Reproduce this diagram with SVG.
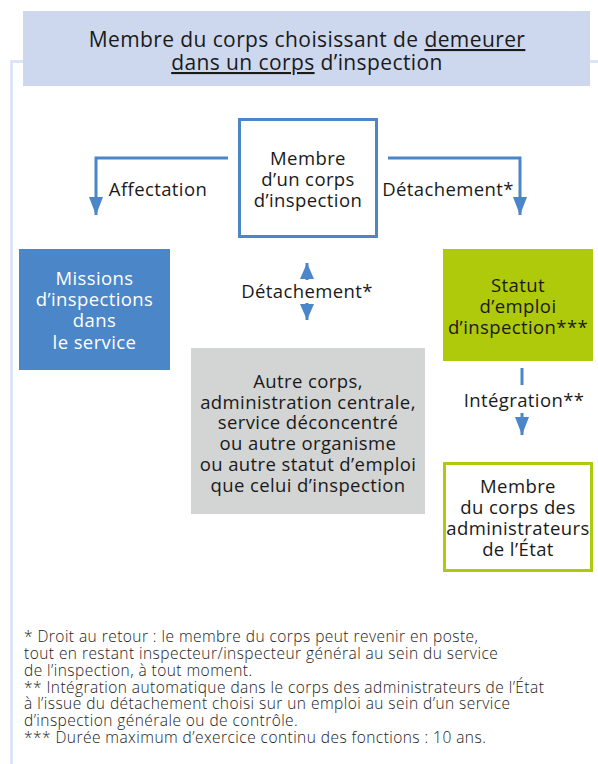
<svg xmlns="http://www.w3.org/2000/svg" width="598" height="764" viewBox="0 0 598 764">
<style>
text{font-family:"Open Sans","Noto Sans","Liberation Sans",sans-serif;fill:#1a1a1a;text-anchor:middle}
.n{font-size:18.5px;letter-spacing:0.4px}
.w{fill:#ffffff}
.h{font-size:21px;letter-spacing:0.4px}
.fn{font-size:15.5px;letter-spacing:0.45px;text-anchor:start;font-weight:300}
.conn{fill:none;stroke:#4a86c8;stroke-width:3}
.u{text-decoration:underline}
</style>
<defs>
<marker id="ah" markerUnits="userSpaceOnUse" markerWidth="18" markerHeight="14" refX="18" refY="7" viewBox="0 0 18 14" orient="auto"><path d="M0,0 L18,7 L0,14 Z" fill="#4a86c8"/></marker>
<marker id="as" markerUnits="userSpaceOnUse" markerWidth="16" markerHeight="14" refX="16" refY="7" viewBox="0 0 16 14" orient="auto"><path d="M0,0 L16,7 L0,14 Z" fill="#4a86c8"/></marker>
</defs>
<g id="frame"><path d="M11.5,764 V61.5 H30 M580,61.5 H598" fill="none" stroke="#dce4f5" stroke-width="3"/></g>
<g id="header">
<rect x="23" y="11" width="567" height="75" fill="#cdd8ee"/>
<text class="h" x="307" y="47">Membre du corps choisissant de <tspan class="u">demeurer</tspan></text>
<text class="h" x="307" y="70"><tspan class="u">dans un corps</tspan> d’inspection</text>
</g>
<g id="connectors">
<path class="conn" d="M228,158 H96 V215" marker-end="url(#ah)"/>
<path class="conn" d="M388,158 H520 V215" marker-end="url(#ah)"/>
<path class="conn" d="M307,280 V263" marker-end="url(#as)"/>
<path class="conn" d="M307,303 V320" marker-end="url(#as)"/>
<path class="conn" d="M522,368 V385"/>
<path class="conn" d="M522,413 V435" marker-end="url(#ah)"/>
<text class="n" x="158" y="196">Affectation</text>
<text class="n" x="448" y="196">Détachement*</text>
<text class="n" x="307" y="298">Détachement*</text>
<text class="n" x="524" y="407">Intégration**</text>
</g>
<g id="membre">
<rect x="239.5" y="119.5" width="137" height="117" fill="#fff" stroke="#4a86c8" stroke-width="3"/>
<text class="n" x="308" y="165">Membre</text>
<text class="n" x="308" y="186">d’un corps</text>
<text class="n" x="308" y="207">d’inspection</text>
</g>
<g id="missions">
<rect x="19" y="249" width="151" height="121" fill="#4a86c8"/>
<text class="n w" x="94.5" y="285">Missions</text>
<text class="n w" x="94.5" y="306">d’inspections</text>
<text class="n w" x="94.5" y="327">dans</text>
<text class="n w" x="94.5" y="349">le service</text>
</g>
<g id="statut">
<rect x="443" y="249" width="150" height="112" fill="#afc90b"/>
<text class="n" x="518" y="292">Statut</text>
<text class="n" x="518" y="313">d’emploi</text>
<text class="n" x="518" y="334">d’inspection***</text>
</g>
<g id="autre">
<rect x="191" y="348" width="234" height="166" fill="#d3d4d4"/>
<text class="n" x="308" y="388">Autre corps,</text>
<text class="n" x="308" y="409">administration centrale,</text>
<text class="n" x="308" y="429">service déconcentré</text>
<text class="n" x="308" y="450">ou autre organisme</text>
<text class="n" x="308" y="471">ou autre statut d’emploi</text>
<text class="n" x="308" y="492">que celui d’inspection</text>
</g>
<g id="admin">
<rect x="444.5" y="463.5" width="147" height="107" fill="#fff" stroke="#afc90b" stroke-width="3"/>
<text class="n" x="518" y="493">Membre</text>
<text class="n" x="518" y="514">du corps des</text>
<text class="n" x="518" y="535">administrateurs</text>
<text class="n" x="518" y="556">de l’État</text>
</g>
<g id="notes">
<text class="fn" x="24" y="642">* Droit au retour : le membre du corps peut revenir en poste,</text>
<text class="fn" x="24" y="659">tout en restant inspecteur/inspecteur général au sein du service</text>
<text class="fn" x="24" y="676">de l’inspection, à tout moment.</text>
<text class="fn" x="24" y="693">** Intégration automatique dans le corps des administrateurs de l’État</text>
<text class="fn" x="24" y="709">à l’issue du détachement choisi sur un emploi au sein d’un service</text>
<text class="fn" x="24" y="726">d’inspection générale ou de contrôle.</text>
<text class="fn" x="24" y="743">*** Durée maximum d’exercice continu des fonctions : 10 ans.</text>
</g>
</svg>
